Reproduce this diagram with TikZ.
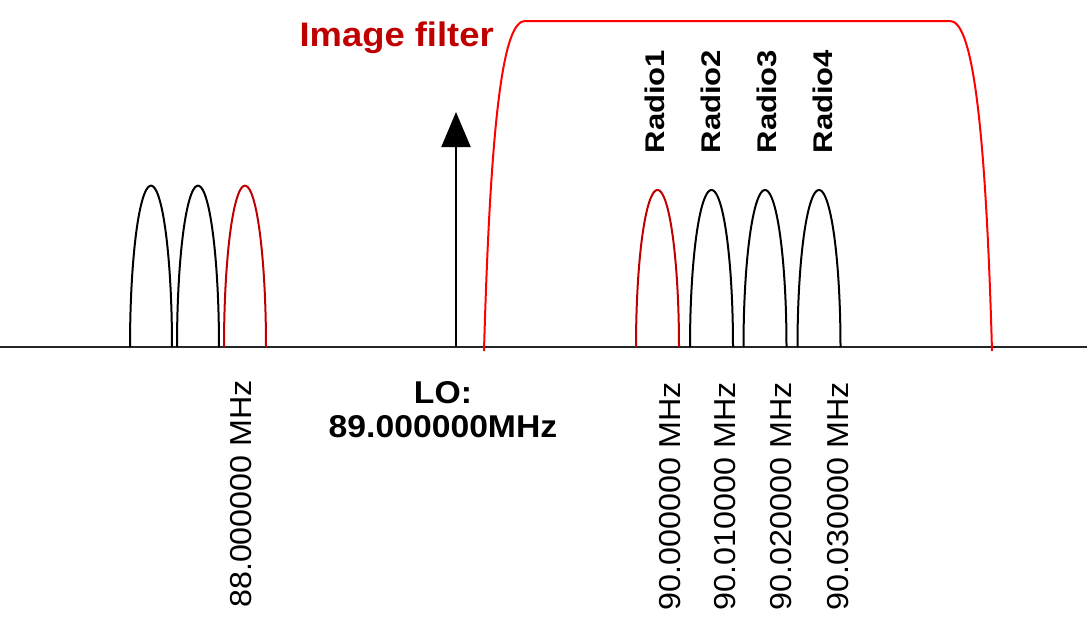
\documentclass[tikz,border=0pt]{standalone}
\usepackage{fontspec}
\usepackage{graphicx}
\setmainfont{Liberation Sans}
\usetikzlibrary{arrows.meta}
\definecolor{darkred}{HTML}{C00000}
\definecolor{filterred}{HTML}{FF0000}
\definecolor{axisgray}{HTML}{262626}
\begin{document}
\begin{tikzpicture}[x=1pt,y=-1pt,
  lobe/.style={line width=2pt},
  freq/.style={font=\fontsize{30.3}{34}\selectfont, anchor=base west, rotate=90, inner sep=0},
  radio/.style={font=\fontsize{27}{30}\selectfont\bfseries, anchor=base west, rotate=90, inner sep=0}]
\useasboundingbox (0,0) rectangle (1087,637);
% baseline axis
\coordinate (axl) at (0,347);
\coordinate (axr) at (1087,347);
\draw[line width=2pt, axisgray] (axl) -- (axr);
% image filter
\draw[filterred, line width=2pt] (484,351) .. controls (491,100) and (505,21) .. (525,21) -- (950,21) .. controls (970,21) and (985,100) .. (992,351);
% left lobes
\foreach \c/\col in {151/black,198/black,245/darkred}
  \draw[lobe,\col] plot[domain=180:0,samples=72,smooth] ({\c+21*cos(\x)},{347-161.3*sin(\x)});
% right lobes
\foreach \c/\col in {657.5/darkred,711.5/black,765/black,819/black}
  \draw[lobe,\col] plot[domain=180:0,samples=72,smooth] ({\c+21.5*cos(\x)},{347-157*sin(\x)});
% LO arrow
\coordinate (lobase) at (456,347);
\coordinate (lotip) at (456,112);
\draw[line width=2pt, -{Triangle[length=35pt,width=29pt]}] (lobase) -- (lotip);
% texts
\node[font=\fontsize{34}{40}\selectfont\bfseries, text=darkred, anchor=base west, inner sep=0] (imgf) at (299.4,46) {\scalebox{1.07}[1]{Image filter}};
\node[font=\fontsize{31.5}{34}\selectfont\bfseries, align=center, inner sep=0] (lo) at (443,409.5) {\scalebox{1.07}[1]{LO:}\\\scalebox{1.07}[1]{89.000000MHz}};
\node[freq] (f88) at (251.7,608) {\scalebox{1.065}[1]{88.000000 MHz}};
\node[freq] (f90a) at (680,610.5) {\scalebox{1.065}[1]{90.000000 MHz}};
\node[freq] (f90b) at (735,610.5) {\scalebox{1.065}[1]{90.010000 MHz}};
\node[freq] (f90c) at (791.7,610.5) {\scalebox{1.065}[1]{90.020000 MHz}};
\node[freq] (f90d) at (848.3,610.5) {\scalebox{1.065}[1]{90.030000 MHz}};
\node[radio] (r1) at (664.3,153.6) {\scalebox{1.15}[1]{Radio1}};
\node[radio] (r2) at (720,153.6) {\scalebox{1.15}[1]{Radio2}};
\node[radio] (r3) at (776.3,153.6) {\scalebox{1.15}[1]{Radio3}};
\node[radio] (r4) at (832.5,153.6) {\scalebox{1.15}[1]{Radio4}};
\end{tikzpicture}
\end{document}
